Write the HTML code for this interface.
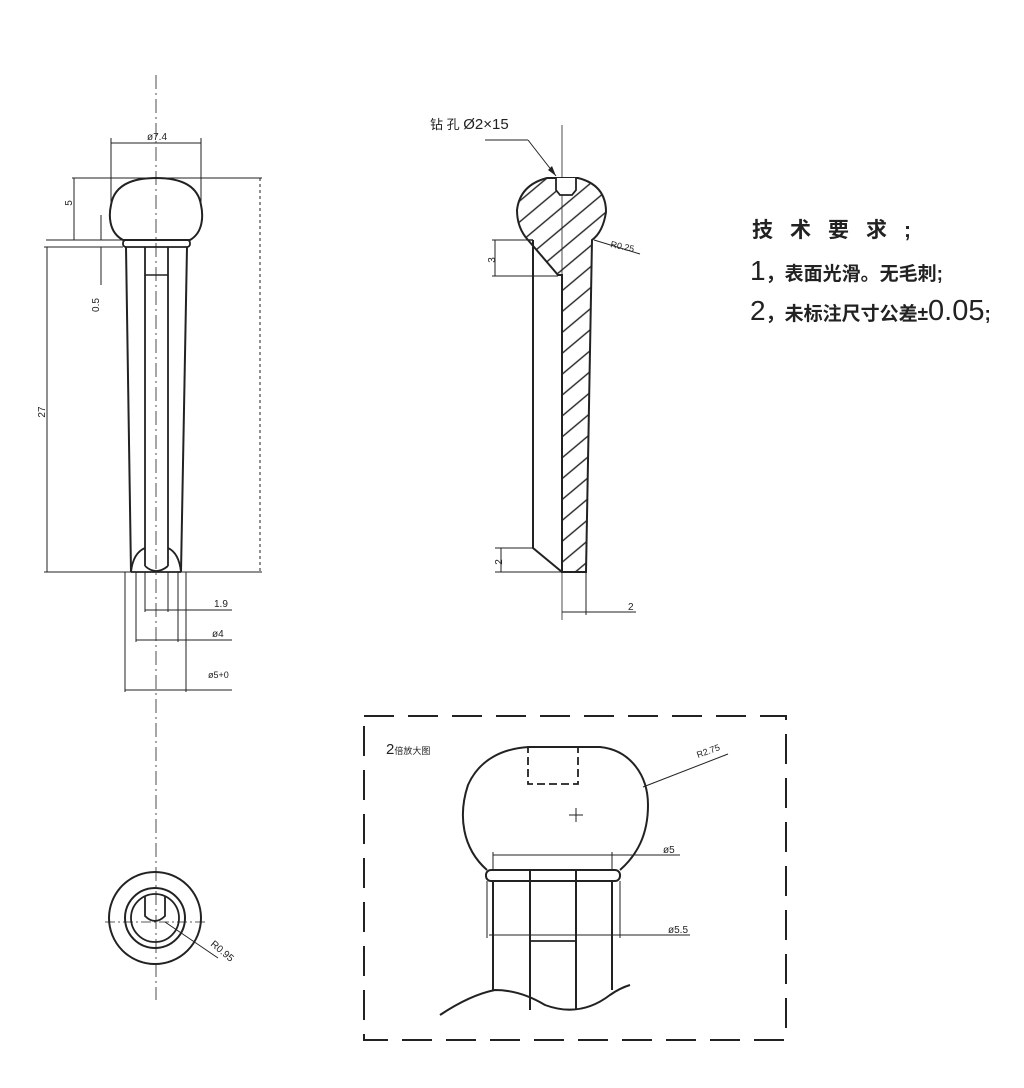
<!DOCTYPE html>
<html><head><meta charset="utf-8"><style>
html,body{margin:0;padding:0;background:#fff;}
svg{display:block;}
text{font-family:"Liberation Sans","Noto Sans CJK SC",sans-serif;fill:#222;}
</style></head><body>
<svg width="1024" height="1088" viewBox="0 0 1024 1088" xmlns="http://www.w3.org/2000/svg">
<defs>
<pattern id="h" width="16" height="16" patternUnits="userSpaceOnUse" patternTransform="rotate(-40)">
<line x1="0" y1="8" x2="16" y2="8" stroke="#222" stroke-width="1.4"/>
</pattern>
</defs>
<g fill="none" stroke="#222">
<!-- LEFT VIEW -->
<line x1="156" y1="75" x2="156" y2="1000" stroke-width="0.8" stroke-dasharray="14,4,2,4"/>
<path d="M123 240 C108 232 109 214 111 205 C114 186 130 178 156 178 C182 178 198 186 201 205 C203 214 204 232 190 240 Z" stroke-width="2"/>
<rect x="123" y="240" width="67" height="7" rx="3" stroke-width="1.8"/>
<line x1="126" y1="247" x2="131" y2="572" stroke-width="2"/>
<line x1="187" y1="247" x2="181" y2="572" stroke-width="2"/>
<line x1="145" y1="247" x2="145" y2="566" stroke-width="1.8"/>
<line x1="168" y1="247" x2="168" y2="566" stroke-width="1.8"/>
<line x1="145" y1="275" x2="168" y2="275" stroke-width="1.5"/>
<path d="M131 572 Q133 553 145 548" stroke-width="1.8"/>
<path d="M181 572 Q179 553 168 548" stroke-width="1.8"/>
<path d="M145 566 Q156 576 168 566" stroke-width="1.8"/>
<line x1="131" y1="572" x2="181" y2="572" stroke-width="1.8"/>
<g stroke-width="1">
<line x1="111" y1="143" x2="201" y2="143"/><line x1="111" y1="138" x2="111" y2="205"/><line x1="201" y1="138" x2="201" y2="205"/>
<line x1="72" y1="178" x2="262" y2="178"/><line x1="46" y1="240" x2="123" y2="240"/>
<line x1="74" y1="178" x2="74" y2="240"/>
<line x1="47" y1="247" x2="47" y2="572"/><line x1="44" y1="247" x2="123" y2="247"/>
<line x1="44" y1="572" x2="262" y2="572"/>
<line x1="260" y1="178" x2="260" y2="572" stroke-dasharray="3,3"/>
<line x1="101" y1="215" x2="101" y2="240"/><line x1="101" y1="247" x2="101" y2="285"/>
<line x1="145" y1="572" x2="145" y2="612"/><line x1="168" y1="572" x2="168" y2="612"/>
<line x1="145" y1="610" x2="232" y2="610"/>
<line x1="136" y1="572" x2="136" y2="642"/><line x1="178" y1="572" x2="178" y2="642"/>
<line x1="136" y1="640" x2="232" y2="640"/>
<line x1="125" y1="572" x2="125" y2="692"/><line x1="186" y1="572" x2="186" y2="692"/>
<line x1="125" y1="690" x2="232" y2="690"/>
</g>
<!-- end view -->
<circle cx="155" cy="918" r="46" stroke-width="2"/>
<circle cx="155" cy="918" r="30" stroke-width="2"/>
<circle cx="155" cy="918" r="24" stroke-width="1.8"/>
<path d="M145 896 L145 916 Q155 926 165 916 L165 896" stroke-width="1.8"/>
<line x1="105" y1="922" x2="207" y2="922" stroke-width="0.8" stroke-dasharray="10,3,2,3"/>
<line x1="165" y1="922" x2="218" y2="958" stroke-width="1"/>
<!-- MIDDLE SECTION -->
<line x1="562" y1="125" x2="562" y2="620" stroke-width="0.8"/>
<path d="M547 178 L578 178 Q606 185 606 212 Q603 232 592 240 L586 572 L562 572 L562 275 L558 275 L528 240 Q517 228 517 210 Q520 185 547 178 Z" fill="url(#h)" stroke-width="2"/>
<path d="M556 178 L556 190 L560 195 L572 195 L576 190 L576 178" fill="#fff" stroke-width="1.8"/>
<path d="M533 240 L533 548 L562 572" stroke-width="2"/>
<line x1="533" y1="240" x2="528" y2="240" stroke-width="1.5"/>
<g stroke-width="1">
<line x1="485" y1="140" x2="528" y2="140"/><line x1="528" y1="140" x2="556" y2="176"/>
<line x1="492" y1="240" x2="530" y2="240"/><line x1="492" y1="276" x2="558" y2="276"/>
<line x1="495" y1="240" x2="495" y2="276"/>
<line x1="495" y1="548" x2="533" y2="548"/><line x1="495" y1="572" x2="562" y2="572"/>
<line x1="501" y1="548" x2="501" y2="572"/>
<line x1="586" y1="572" x2="586" y2="615"/>
<line x1="562" y1="612" x2="636" y2="612"/>
<line x1="594" y1="240" x2="640" y2="254"/>
</g>
<path d="M556 176 L548 170 L552 166 Z" fill="#222" stroke="none"/>
<!-- DETAIL -->
<rect x="364" y="716" width="422" height="324" stroke-width="2" stroke-dasharray="30,14"/>
<path d="M487 870 C462 848 458 815 468 785 C480 758 505 748 530 747 L600 747 C630 750 648 775 648 805 C648 835 637 855 620 870" stroke-width="2"/>
<rect x="528" y="747" width="50" height="37" stroke-width="1.8" stroke-dasharray="8,4"/>
<path d="M569 815 h14 M576 808 v14" stroke-width="1"/>
<rect x="486" y="870" width="134" height="11" rx="5" stroke-width="2"/>
<line x1="493" y1="881" x2="493" y2="990" stroke-width="2"/>
<line x1="612" y1="881" x2="612" y2="990" stroke-width="2"/>
<line x1="530" y1="870" x2="530" y2="1010" stroke-width="2"/>
<line x1="576" y1="870" x2="576" y2="1010" stroke-width="2"/>
<line x1="530" y1="941" x2="576" y2="941" stroke-width="1.8"/>
<path d="M440 1015 Q470 995 495 990 Q520 990 545 1005 Q580 1018 610 995 Q620 988 630 985" stroke-width="2"/>
<g stroke-width="1">
<line x1="493" y1="855" x2="612" y2="855"/><line x1="612" y1="855" x2="680" y2="855"/>
<line x1="493" y1="852" x2="493" y2="870"/><line x1="612" y1="852" x2="612" y2="870"/>
<line x1="489" y1="935" x2="690" y2="935"/>
<line x1="487" y1="881" x2="487" y2="938"/><line x1="620" y1="881" x2="620" y2="938"/>
<line x1="643" y1="787" x2="728" y2="754"/>
</g>
</g>
<!-- TEXT -->
<g font-size="10">
<text x="147" y="140">ø7.4</text>
<text x="72" y="203" transform="rotate(-90 72 203)" text-anchor="middle">5</text>
<text x="99" y="305" transform="rotate(-90 99 305)" text-anchor="middle">0.5</text>
<text x="45" y="412" transform="rotate(-90 45 412)" text-anchor="middle">27</text>
<text x="214" y="607">1.9</text>
<text x="212" y="637">ø4</text>
<text x="208" y="678" font-size="9">ø5+0</text>
<text x="210" y="945" transform="rotate(40 210 945)" font-size="10">R0.95</text>
<text x="495" y="260" transform="rotate(-90 495 260)" text-anchor="middle">3</text>
<text x="502" y="562" transform="rotate(-90 502 562)" text-anchor="middle">2</text>
<text x="628" y="610">2</text>
<text x="610" y="247" font-size="9" transform="rotate(12 610 247)">R0.25</text>
<text x="663" y="853">ø5</text>
<text x="668" y="933">ø5.5</text>
<text x="698" y="758" font-size="9" transform="rotate(-20 698 758)">R2.75</text>
</g>
<text x="430" y="129" font-size="13">钻 孔 <tspan font-size="15">Ø2×15</tspan></text>
<text x="386" y="754" font-size="15">2<tspan font-size="9">倍放大图</tspan></text>
<g font-weight="bold">
<text x="752" y="237" font-size="21" letter-spacing="17">技术要求;</text>
<text x="750" y="280" font-size="19"><tspan font-size="28" font-weight="normal">1</tspan>，表面光滑。无毛刺;</text>
<text x="750" y="320" font-size="19"><tspan font-size="28" font-weight="normal">2</tspan>，未标注尺寸公差±<tspan font-size="29" font-weight="normal">0.05</tspan>;</text>
</g>
</svg>
</body></html>
